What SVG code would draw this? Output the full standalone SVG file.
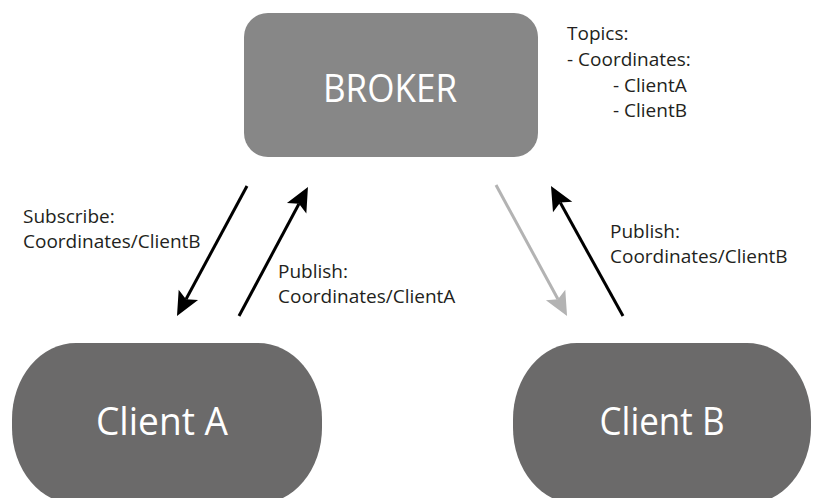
<svg xmlns="http://www.w3.org/2000/svg" width="813" height="498" viewBox="0 0 813 498">
  <style>
    .label { font-family: "Open Sans", "Liberation Sans", sans-serif; font-size: 19px; fill: #231f20; }
    .node-text { font-family: "Open Sans", "Liberation Sans", sans-serif; font-size: 38px; fill: #ffffff; text-anchor: middle; }
    .broker { fill: #878787; }
    .client { fill: #6b6a6a; }
    .link { stroke-width: 3; fill: none; }
    .link.dark { stroke: #000000; marker-end: url(#head-dark); }
    .link.light { stroke: #b3b3b3; marker-end: url(#head-light); }
  </style>
  <defs>
    <marker id="head-dark" markerUnits="userSpaceOnUse" markerWidth="30" markerHeight="30" refX="5" refY="0" orient="auto" overflow="visible">
      <path d="M24,0 L0,-11 L5,0 L0,11 Z" fill="#000000"/>
    </marker>
    <marker id="head-light" markerUnits="userSpaceOnUse" markerWidth="30" markerHeight="30" refX="5" refY="0" orient="auto" overflow="visible">
      <path d="M24,0 L0,-11 L5,0 L0,11 Z" fill="#b3b3b3"/>
    </marker>
  </defs>
  <rect width="813" height="498" fill="#ffffff"/>

  <g id="broker">
    <rect class="broker" x="244" y="13" width="294" height="144" rx="24" ry="24"/>
    <text class="node-text" x="390" y="102" textLength="134" lengthAdjust="spacingAndGlyphs">BROKER</text>
  </g>

  <g id="client-a">
    <rect class="client" x="12" y="343" width="310" height="161" rx="64" ry="76"/>
    <text class="node-text" x="162" y="435" textLength="132" lengthAdjust="spacingAndGlyphs">Client A</text>
  </g>

  <g id="client-b">
    <rect class="client" x="513" y="343" width="298" height="161" rx="64" ry="76"/>
    <text class="node-text" x="662" y="435" textLength="125" lengthAdjust="spacingAndGlyphs">Client B</text>
  </g>

  <g id="topics">
    <text class="label" x="567" y="40">Topics:</text>
    <text class="label" x="567" y="66">- Coordinates:</text>
    <text class="label" x="613" y="92">- ClientA</text>
    <text class="label" x="613" y="117">- ClientB</text>
  </g>

  <g id="connectors">
    <line class="link dark" x1="247" y1="186" x2="186" y2="299.3"/>
    <line class="link dark" x1="239" y1="316" x2="299" y2="203.8"/>
    <line class="link light" x1="496" y1="185" x2="558" y2="299.3"/>
    <line class="link dark" x1="623" y1="316" x2="560.2" y2="202.6"/>
  </g>

  <g id="connector-labels">
    <text class="label" x="23" y="223">Subscribe:</text>
    <text class="label" x="23" y="248">Coordinates/ClientB</text>
    <text class="label" x="278" y="278">Publish:</text>
    <text class="label" x="278" y="303">Coordinates/ClientA</text>
    <text class="label" x="610" y="238">Publish:</text>
    <text class="label" x="610" y="263">Coordinates/ClientB</text>
  </g>
</svg>
